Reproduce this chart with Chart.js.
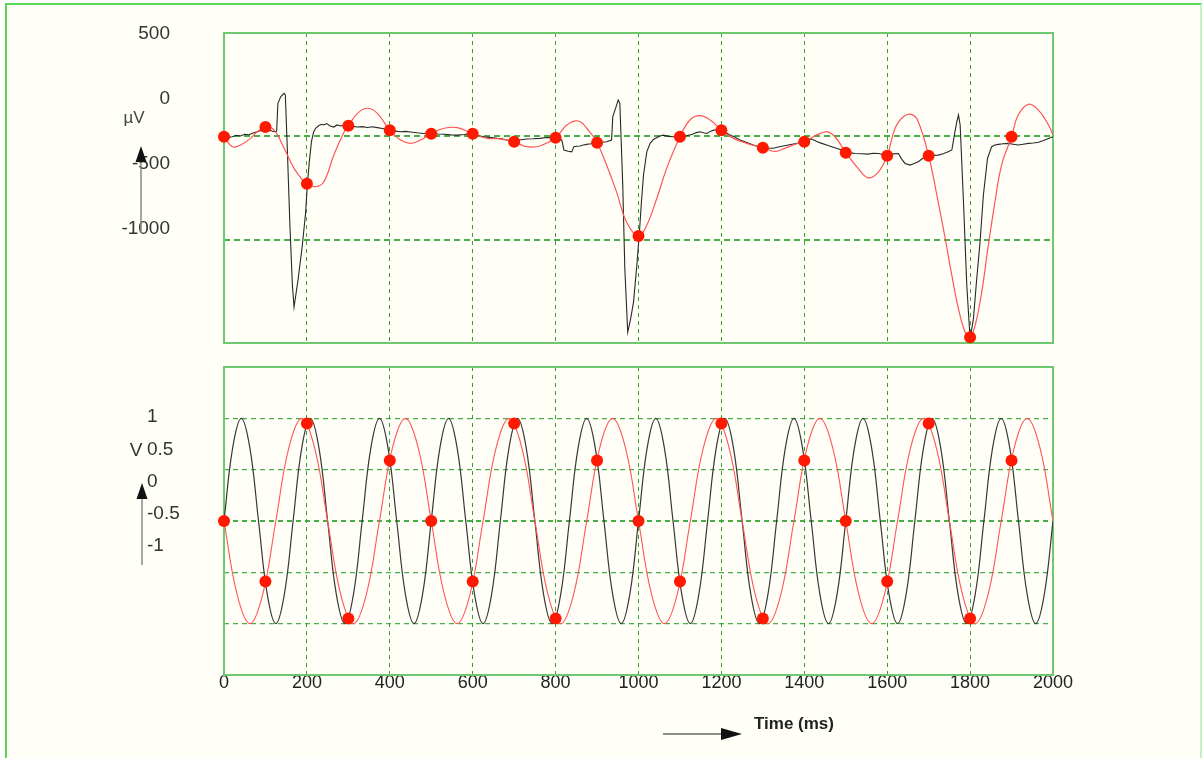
<!DOCTYPE html>
<html><head><meta charset="utf-8">
<script src="https://cdn.jsdelivr.net/npm/chart.js@4.4.1/dist/chart.umd.min.js"></script>
<style>
html,body{margin:0;padding:0;background:#fff;width:1203px;height:758px;overflow:hidden;}
#frame{position:absolute;left:5px;top:3px;width:1193px;height:800px;background:rgb(255,255,248);border-left:2px solid rgb(85,215,85);border-top:2px solid rgb(85,215,85);border-right:2px solid rgb(195,245,195);}
canvas{position:absolute;left:0;top:0;}
</style></head><body>
<div id="frame"></div>
<canvas id="topChart" width="1203" height="758"></canvas>
<canvas id="botChart" width="1203" height="758"></canvas>
<script>
// ---------- DATA ----------
// time axis ticks (ms)
const timeTicks = [0,200,400,600,800,1000,1200,1400,1600,1800,2000];
// y tick labels
const ecgTickLabels = [500, 0, -500, -1000];
const voltTickLabels = [1, 0.5, 0, -0.5, -1];

// ECG trace (black), time in ms and amplitude in µV
const ecgTime = [
  0,10,20,30,40,50,60,70,80,90,
  100,110,120,127,130,137,145,148,153,159,
  165,169,179,189,197,201,206,211,216,221,
  229,236,241,248,256,265,273,282,290,300,
  310,322,334,346,358,370,382,390,400,413,
  426,438,450,466,482,492,502,516,531,547,
  563,580,590,599,610,627,640,659,670,682,
  690,700,712,722,730,745,762,778,795,805,
  815,820,830,839,844,852,859,867,875,885,
  899,910,923,935,938,946,951,955,962,967,
  974,981,988,996,1002,1007,1012,1020,1028,1036,
  1044,1052,1060,1072,1084,1100,1116,1130,1140,1148,
  1157,1165,1173,1181,1190,1201,1210,1221,1233,1245,
  1261,1277,1290,1301,1313,1325,1340,1361,1380,1400,
  1410,1418,1430,1442,1454,1466,1478,1490,1502,1512,
  1522,1538,1554,1566,1579,1590,1599,1612,1627,1635,
  1643,1655,1665,1675,1687,1699,1711,1723,1735,1747,
  1756,1762,1768,1772,1776,1784,1792,1800,1808,1816,
  1824,1832,1842,1852,1860,1868,1880,1892,1904,1916,
  1928,1941,1953,1965,1977,1989,2000
];
const ecgValue = [
  -10,-5,-2,5,2,10,8,16,22,28,
  45,30,22,24,160,192,208,200,-75,-430,
  -721,-826,-689,-527,-366,-236,-120,-26,20,39,
  52,58,55,62,50,45,55,50,55,51,
  48,45,47,43,46,42,38,35,30,25,
  22,24,21,17,14,16,13,11,10,7,
  6,9,12,13,5,-2,-5,-10,-12,-18,
  -22,-26,-18,-15,-13,-12,-10,-6,-7,-10,
  -18,-66,-72,-75,-50,-48,-47,-42,-39,-36,
  -31,-30,-26,-18,95,144,176,160,-236,-640,
  -948,-883,-802,-624,-470,-320,-188,-75,-34,-15,
  -7,2,6,0,-2,-2,3,10,18,22,
  17,14,24,30,32,35,20,6,-5,-18,
  -30,-42,-50,-55,-57,-58,-50,-42,-35,-26,
  -18,-13,-25,-34,-42,-50,-58,-66,-79,-80,
  -83,-84,-86,-82,-83,-88,-91,-85,-83,-110,
  -131,-139,-132,-123,-105,-94,-92,-91,-84,-75,
  -66,6,71,103,55,-317,-721,-980,-883,-689,
  -511,-285,-107,-50,-42,-39,-36,-34,-38,-42,
  -38,-34,-32,-29,-20,-10,-2
];

// reconstructed ECG (red curve)
const ecgRecTime = [
  0,20,40,64,80,100,121,145,169,193,
  200,221,241,265,290,300,322,346,370,400,
  426,450,474,500,531,563,600,635,666,700,
  730,762,800,827,855,879,900,923,947,971,
  1000,1020,1044,1068,1100,1124,1148,1173,1200,1229,
  1261,1300,1329,1353,1378,1400,1450,1474,1500,1530,
  1554,1579,1600,1619,1639,1659,1675,1700,1723,1740,
  1756,1772,1788,1800,1812,1828,1844,1860,1876,1900,
  1916,1941,1965,1989,2000
];
const ecgRecValue = [
  -2,-50,-42,-10,22,45,30,-58,-155,-220,
  -230,-244,-220,-90,22,51,111,136,111,29,
  -18,-34,-18,13,39,42,13,-10,-12,-26,
  -50,-47,-7,55,74,30,-31,-139,-269,-414,
  -482,-430,-301,-155,-2,79,100,79,30,-10,
  -34,-55,-73,-58,-39,-26,22,-2,-79,-155,
  -201,-172,-94,39,95,106,71,-94,-317,-495,
  -673,-835,-948,-972,-916,-754,-527,-317,-139,-2,
  103,155,127,55,6
];

// samples every 100 ms (red dots)
const sampleTime = [0,100,200,300,400,500,600,700,800,900,1000,1100,1200,1300,1400,1500,1600,1700,1800,1900];
const ecgSampleValue = [-2,45,-230,51,29,13,13,-26,-7,-31,-482,-2,30,-55,-26,-79,-94,-94,-972,-2];

// 6 Hz sine (black), V
const sineTime = [
  0,20.8,41.7,62.5,83.3,104.2,125,145.8,166.7,187.5,208.3,229.2,
  250,270.8,291.7,312.5,333.3,354.2,375,395.8,416.7,437.5,458.3,479.2,
  500,520.8,541.7,562.5,583.3,604.2,625,645.8,666.7,687.5,708.3,729.2,
  750,770.8,791.7,812.5,833.3,854.2,875,895.8,916.7,937.5,958.3,979.2,
  1000,1020.8,1041.7,1062.5,1083.3,1104.2,1125,1145.8,1166.7,1187.5,1208.3,1229.2,
  1250,1270.8,1291.7,1312.5,1333.3,1354.2,1375,1395.8,1416.7,1437.5,1458.3,1479.2,
  1500,1520.8,1541.7,1562.5,1583.3,1604.2,1625,1645.8,1666.7,1687.5,1708.3,1729.2,
  1750,1770.8,1791.7,1812.5,1833.3,1854.2,1875,1895.8,1916.7,1937.5,1958.3,1979.2,
  2000
];
const sineValue = [
  0,0.71,1,0.71,0,-0.71,-1,-0.71,
  0,0.71,1,0.71,0,-0.71,-1,-0.71,
  0,0.71,1,0.71,0,-0.71,-1,-0.71,
  0,0.71,1,0.71,0,-0.71,-1,-0.71,
  0,0.71,1,0.71,0,-0.71,-1,-0.71,
  0,0.71,1,0.71,0,-0.71,-1,-0.71,
  0,0.71,1,0.71,0,-0.71,-1,-0.71,
  0,0.71,1,0.71,0,-0.71,-1,-0.71,
  0,0.71,1,0.71,0,-0.71,-1,-0.71,
  0,0.71,1,0.71,0,-0.71,-1,-0.71,
  0,0.71,1,0.71,0,-0.71,-1,-0.71,
  0,0.71,1,0.71,0,-0.71,-1,-0.71,
  0
];

// 4 Hz alias (red), V
const aliasTime = [
  0,31.25,62.5,93.75,125,156.25,187.5,218.75,
  250,281.25,312.5,343.75,375,406.25,437.5,468.75,
  500,531.25,562.5,593.75,625,656.25,687.5,718.75,
  750,781.25,812.5,843.75,875,906.25,937.5,968.75,
  1000,1031.25,1062.5,1093.75,1125,1156.25,1187.5,1218.75,
  1250,1281.25,1312.5,1343.75,1375,1406.25,1437.5,1468.75,
  1500,1531.25,1562.5,1593.75,1625,1656.25,1687.5,1718.75,
  1750,1781.25,1812.5,1843.75,1875,1906.25,1937.5,1968.75,
  2000
];
const aliasValue = [
  0,-0.71,-1,-0.71,0,0.71,1,0.71,
  0,-0.71,-1,-0.71,0,0.71,1,0.71,
  0,-0.71,-1,-0.71,0,0.71,1,0.71,
  0,-0.71,-1,-0.71,0,0.71,1,0.71,
  0,-0.71,-1,-0.71,0,0.71,1,0.71,
  0,-0.71,-1,-0.71,0,0.71,1,0.71,
  0,-0.71,-1,-0.71,0,0.71,1,0.71,
  0,-0.71,-1,-0.71,0,0.71,1,0.71,
  0
];
const sineSampleValue = [0,-0.59,0.95,-0.95,0.59,0,-0.59,0.95,-0.95,0.59,0,-0.59,0.95,-0.95,0.59,0,-0.59,0.95,-0.95,0.59];

// ---------- HELPERS ----------
const FONT = '"Liberation Sans", Arial, Helvetica, sans-serif';
const pts = (xs, ys) => xs.map((x, i) => ({x: x, y: ys[i]}));
const GRID_V = 'rgba(20,145,20,0.85)';
const GRID_H = 'rgba(40,160,40,0.85)';
const BOX = 'rgb(110,200,110)';
const RED_DOT = 'rgb(255,25,0)';
const RED_LINE = 'rgb(255,85,85)';
const BLACK_LINE = 'rgb(40,40,40)';

const frameBox = {
  id: 'frameBox',
  beforeDatasetsDraw(chart) {
    const {ctx, chartArea: a} = chart;
    ctx.save();
    ctx.strokeStyle = BOX;
    ctx.lineWidth = 2;
    ctx.setLineDash([]);
    ctx.strokeRect(a.left, a.top, a.right - a.left, a.bottom - a.top);
    ctx.restore();
  }
};

function upArrow(ctx, x, yTail, yTip) {
  ctx.save();
  ctx.strokeStyle = '#888';
  ctx.lineWidth = 1.5;
  ctx.beginPath();
  ctx.moveTo(x, yTail);
  ctx.lineTo(x, yTip + 14);
  ctx.stroke();
  ctx.fillStyle = '#111';
  ctx.beginPath();
  ctx.moveTo(x, yTip);
  ctx.lineTo(x - 5.5, yTip + 16);
  ctx.lineTo(x + 5.5, yTip + 16);
  ctx.closePath();
  ctx.fill();
  ctx.restore();
}

const topDecor = {
  id: 'topDecor',
  afterDraw(chart) {
    const ctx = chart.ctx;
    ctx.save();
    ctx.fillStyle = '#444';
    ctx.font = '17px ' + FONT;
    ctx.textAlign = 'center';
    ctx.textBaseline = 'middle';
    ctx.fillText('µV', 134, 118);
    ctx.restore();
    upArrow(ctx, 141, 233, 146);
  }
};

const botDecor = {
  id: 'botDecor',
  afterDraw(chart) {
    const ctx = chart.ctx;
    ctx.save();
    ctx.fillStyle = '#333';
    ctx.font = '19px ' + FONT;
    ctx.textAlign = 'center';
    ctx.textBaseline = 'middle';
    ctx.fillText('V', 136, 451);
    ctx.restore();
    upArrow(ctx, 142, 565, 483);
    // time arrow
    ctx.save();
    ctx.strokeStyle = '#666';
    ctx.lineWidth = 1.5;
    ctx.beginPath();
    ctx.moveTo(663, 734);
    ctx.lineTo(726, 734);
    ctx.stroke();
    ctx.fillStyle = '#111';
    ctx.beginPath();
    ctx.moveTo(742, 734);
    ctx.lineTo(721, 728);
    ctx.lineTo(721, 740);
    ctx.closePath();
    ctx.fill();
    ctx.fillStyle = '#222';
    ctx.font = 'bold 17px ' + FONT;
    ctx.textAlign = 'left';
    ctx.textBaseline = 'middle';
    ctx.fillText('Time (ms)', 754, 724);
    ctx.restore();
  }
};

const noPad = s => { s.paddingTop = 0; s.paddingBottom = 0; s.paddingLeft = 0; s.paddingRight = 0; };

const xScale = (showLabels) => ({
  type: 'linear', min: 0, max: 2000,
  afterBuildTicks: s => { s.ticks = timeTicks.map(v => ({value: v})); },
  grid: { color: GRID_V, lineWidth: 1, drawTicks: false, borderDash: [4, 4] },
  border: { display: false, dash: [4, 4] },
  ticks: {
    display: showLabels, autoSkip: false, maxRotation: 0, padding: -1,
    color: '#222', font: { family: FONT, size: 18, lineHeight: 1 },
    callback: v => String(v)
  },
  afterFit: s => { s.height = showLabels ? 83 : 0; noPad(s); }
});

// ---------- TOP CHART ----------
new Chart(document.getElementById('topChart'), {
  type: 'line',
  data: {
    datasets: [
      { data: pts(sampleTime, ecgSampleValue), showLine: false, pointRadius: 6, pointHoverRadius: 6,
        pointBackgroundColor: RED_DOT, pointBorderWidth: 0, clip: false, order: 0,
        xAxisID: 'x', yAxisID: 'yGrid' },
      { data: pts(ecgRecTime, ecgRecValue), borderColor: RED_LINE, borderWidth: 1.2, pointRadius: 0,
        tension: 0.4, order: 1, xAxisID: 'x', yAxisID: 'yGrid' },
      { data: pts(ecgTime, ecgValue), borderColor: BLACK_LINE, borderWidth: 1.1, pointRadius: 0,
        tension: 0, order: 2, xAxisID: 'x', yAxisID: 'yGrid' }
    ]
  },
  options: {
    responsive: false, animation: false, devicePixelRatio: 1, events: [],
    layout: { padding: { left: 0, right: 150, top: 33, bottom: 415 } },
    plugins: { legend: { display: false }, tooltip: { enabled: false } },
    scales: {
      x: xScale(false),
      yLabel: {
        type: 'linear', position: 'left', min: -1877, max: 508,
        afterBuildTicks: s => { s.ticks = ecgTickLabels.map(v => ({value: v})); },
        grid: { display: false, drawTicks: false },
        border: { display: false },
        ticks: { padding: 54, crossAlign: 'near', autoSkip: false, color: '#333',
                 font: { family: FONT, size: 19 }, callback: v => String(v) },
        afterFit: s => { s.width = 224; noPad(s); }
      },
      yGrid: {
        type: 'linear', position: 'right', min: -1000, max: 500,
        ticks: { display: false, stepSize: 500 },
        grid: { color: GRID_H, lineWidth: 2, drawTicks: false, borderDash: [6, 4] },
        border: { display: false, dash: [6, 4] },
        afterFit: s => { s.width = 0; noPad(s); }
      }
    }
  },
  plugins: [frameBox, topDecor]
});

// ---------- BOTTOM CHART ----------
new Chart(document.getElementById('botChart'), {
  type: 'line',
  data: {
    datasets: [
      { data: pts(sampleTime, sineSampleValue), showLine: false, pointRadius: 6, pointHoverRadius: 6,
        pointBackgroundColor: RED_DOT, pointBorderWidth: 0, clip: false, order: 0,
        xAxisID: 'x', yAxisID: 'yGrid' },
      { data: pts(aliasTime, aliasValue), borderColor: RED_LINE, borderWidth: 1.1, pointRadius: 0,
        tension: 0.4, order: 1, xAxisID: 'x', yAxisID: 'yGrid' },
      { data: pts(sineTime, sineValue), borderColor: 'rgb(55,55,55)', borderWidth: 1.2, pointRadius: 0,
        tension: 0.4, order: 2, xAxisID: 'x', yAxisID: 'yGrid' }
    ]
  },
  options: {
    responsive: false, animation: false, devicePixelRatio: 1, events: [],
    layout: { padding: { left: 147, right: 150, top: 367, bottom: 0 } },
    plugins: { legend: { display: false }, tooltip: { enabled: false } },
    scales: {
      x: xScale(true),
      yLabel: {
        type: 'linear', position: 'left', min: -3, max: 1.78,
        afterBuildTicks: s => { s.ticks = voltTickLabels.map(v => ({value: v})); },
        grid: { display: false, drawTicks: false },
        border: { display: false },
        ticks: { padding: 0, crossAlign: 'far', autoSkip: false, color: '#333',
                 font: { family: FONT, size: 19 }, callback: v => String(v) },
        afterFit: s => { s.width = 77; noPad(s); }
      },
      yGrid: {
        type: 'linear', position: 'right', min: -1.5, max: 1.5,
        ticks: { display: false, stepSize: 0.5 },
        grid: { color: GRID_H, lineWidth: c => (c.tick && c.tick.value === 0 ? 2 : 1.2),
                drawTicks: false, borderDash: [5, 4] },
        border: { display: false, dash: [5, 4] },
        afterFit: s => { s.width = 0; noPad(s); }
      }
    }
  },
  plugins: [frameBox, botDecor]
});
</script>
</body></html>
